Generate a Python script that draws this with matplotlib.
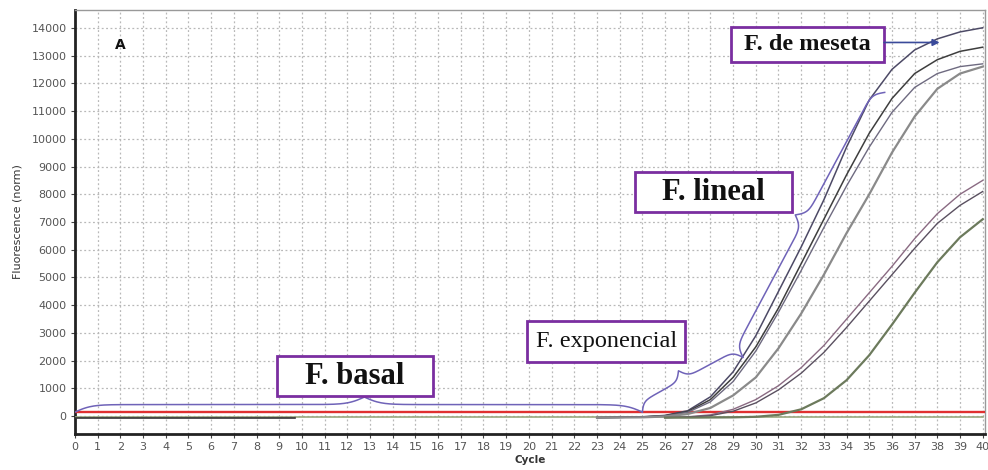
import numpy as np
import matplotlib
matplotlib.use("Agg")
import matplotlib.pyplot as plt
from matplotlib.patches import Rectangle

# ---------------- data ----------------
cycles_A = [23, 24, 25, 26, 27, 28, 29, 30, 31, 32, 33, 34, 35, 36, 37, 38, 39, 40]
A1 = [-50, -40, -20, 30, 200, 700, 1600, 2900, 4500, 6100, 7800, 9700, 11400, 12500, 13200, 13600, 13850, 14000]
A2 = [-50, -40, -25, 20, 170, 600, 1400, 2500, 3900, 5500, 7100, 8700, 10200, 11450, 12350, 12850, 13150, 13300]
A3 = [-50, -40, -30, 10, 140, 520, 1250, 2350, 3750, 5250, 6800, 8300, 9700, 10950, 11850, 12350, 12600, 12700]
A4 = [-50, -45, -40, -10, 80, 300, 750, 1400, 2450, 3700, 5100, 6600, 8000, 9500, 10800, 11800, 12350, 12600]

cycles_B = [26, 27, 28, 29, 30, 31, 32, 33, 34, 35, 36, 37, 38, 39, 40]
B1 = [-50, -20, 50, 250, 600, 1100, 1750, 2550, 3500, 4450, 5400, 6400, 7300, 8000, 8500]
B2 = [-50, -30, 20, 180, 480, 950, 1550, 2300, 3200, 4150, 5100, 6050, 6950, 7600, 8100]

cycles_C = [26, 27, 28, 29, 30, 31, 32, 33, 34, 35, 36, 37, 38, 39, 40]
C1 = [-50, -50, -45, -40, -20, 50, 250, 650, 1300, 2200, 3300, 4450, 5550, 6450, 7100]

baseline_x = [0, 40]
baseline_green = [-30, -30]
baseline_black_x = [0, 9.7]
baseline_black = [-50, -50]
threshold = 150

x_ticks = list(range(0, 41))
y_ticks = list(range(0, 14001, 1000))

# brace anchors (data coords)
brace_basal = [(0.0, 150), (25.0, 150)]
brace_expo = [(25.0, 145), (29.43, 2125)]
brace_lineal = [(29.43, 2125), (35.68, 11670)]

labels = ["F. basal", "F. exponencial", "F. lineal", "F. de meseta"]
label_centers = [(12.34, 1450), (23.42, 2690), (28.14, 8081), (32.28, 13379)]
meseta_arrow_end = (38.1, 13470)

# ---------------- figure ----------------
W, H, DPI = 988, 470, 100
fig = plt.figure(figsize=(W / DPI, H / DPI), dpi=DPI)
ax_l, ax_r, ax_b, ax_t = 75, 985, 434, 10
ax = fig.add_axes([ax_l / W, (H - ax_b) / H, (ax_r - ax_l) / W, (ax_b - ax_t) / H])
XLIM = (0, 40.1)
YLIM = (-640, 14640)
ax.set_xlim(*XLIM)
ax.set_ylim(*YLIM)

ax.set_xticks(x_ticks)
ax.set_yticks(y_ticks)
ax.tick_params(axis='both', labelsize=8, labelcolor='#555555', color='#444444', length=3, width=0.8, pad=3)
ax.grid(True, color='#b8b8b8', linestyle=(0, (1.5, 2)), linewidth=0.9)
ax.set_axisbelow(True)
for s in ['left', 'bottom']:
    ax.spines[s].set_linewidth(2.0)
    ax.spines[s].set_color('#222222')
for s in ['top', 'right']:
    ax.spines[s].set_linewidth(1.0)
    ax.spines[s].set_color('#999999')

ax.set_ylabel("Fluorescence (norm)", fontsize=8, color='#333333')
ax.yaxis.set_label_coords((23 - ax_l) / (ax_r - ax_l), 0.5)
ax.set_xlabel("Cycle", fontsize=7.5, color='#333333', fontweight='bold')
ax.xaxis.set_label_coords(0.5, -(455 - ax_b) / (ax_b - ax_t))

# baselines & threshold
ax.plot(baseline_x, baseline_green, color='#9aa880', lw=1.2, zorder=3)
ax.plot(baseline_black_x, baseline_black, color='#333333', lw=1.2, zorder=3)
ax.axhline(threshold, color='#e03030', lw=1.7, zorder=4)

# curves
ax.plot(cycles_A, A1, color='#4d4a66', lw=1.1, zorder=5)
ax.plot(cycles_A, A2, color='#3e3e3e', lw=1.1, zorder=5)
ax.plot(cycles_A, A3, color='#6e6a80', lw=1.0, zorder=5)
ax.plot(cycles_A, A4, color='#8a8a8a', lw=1.6, zorder=5)
ax.plot(cycles_B, B1, color='#8a6a82', lw=1.0, zorder=5)
ax.plot(cycles_B, B2, color='#5a5060', lw=1.0, zorder=5)
ax.plot(cycles_C, C1, color='#6c7a5c', lw=1.6, zorder=5)

# braces
def draw_brace(p0, p1, depth, beta, frac=0.5, color='#6f63b8'):
    T = ax.transData
    d0 = np.array(T.transform(p0))
    d1 = np.array(T.transform(p1))
    v = d1 - d0
    L = np.hypot(*v)
    u = v / L
    n = np.array([-u[1], u[0]])
    La = L * frac
    Lb = L - La
    sa = np.linspace(0, La, 200)
    ha = 1 / (1 + np.exp(-beta * sa)) + 1 / (1 + np.exp(-beta * (sa - La))) - 0.5
    sb = np.linspace(0, Lb, 200)
    hb = 1 / (1 + np.exp(-beta * sb)) + 1 / (1 + np.exp(-beta * (sb - Lb))) - 0.5
    s = np.concatenate([sa, L - sb[::-1]])
    h = np.concatenate([ha, hb[::-1]])
    pts = d0[None, :] + u[None, :] * s[:, None] + n[None, :] * (h[:, None] * depth)
    data = T.inverted().transform(pts)
    ax.plot(data[:, 0], data[:, 1], color=color, lw=1.1, zorder=6)

draw_brace(brace_basal[0], brace_basal[1], 15, 0.12, frac=0.51)
draw_brace(brace_expo[0], brace_expo[1], 19, 0.3, frac=0.45)
draw_brace(brace_lineal[0], brace_lineal[1], 21, 0.25, frac=0.5)

# label boxes
px_per_x = (ax_r - ax_l) / (XLIM[1] - XLIM[0])
px_per_y = (ax_b - ax_t) / (YLIM[1] - YLIM[0])
box_px = [(156, 40), (158, 41), (157, 40), (153, 35)]
fonts = [dict(size=22, weight='bold'), dict(size=17.5, weight='medium'),
         dict(size=22, weight='bold'), dict(size=17.5, weight='bold')]
for lab, (cx, cy), (bw, bh), f in zip(labels, label_centers, box_px, fonts):
    w = bw / px_per_x
    h = bh / px_per_y
    ax.add_patch(Rectangle((cx - w / 2, cy - h / 2), w, h, facecolor='white',
                           edgecolor='#7a2ea0', lw=2.0, zorder=8))
    ax.text(cx, cy, lab, ha='center', va='center', family='Liberation Serif',
            fontsize=f['size'], fontweight=f['weight'], color='#111111', zorder=9)

# meseta arrow
mx, my = label_centers[3]
box_right = mx + box_px[3][0] / 2 / px_per_x
ax.annotate("", xy=meseta_arrow_end, xytext=(box_right, meseta_arrow_end[1]),
            arrowprops=dict(arrowstyle='-|>', color='#3a4a9a', lw=1.2,
                            mutation_scale=10, shrinkA=0, shrinkB=0), zorder=9)

ax.text(1.98, 13379, "A", fontsize=10, fontweight='bold', ha='center', va='center', color='#111111')

fig.savefig("out.png", dpi=DPI)
